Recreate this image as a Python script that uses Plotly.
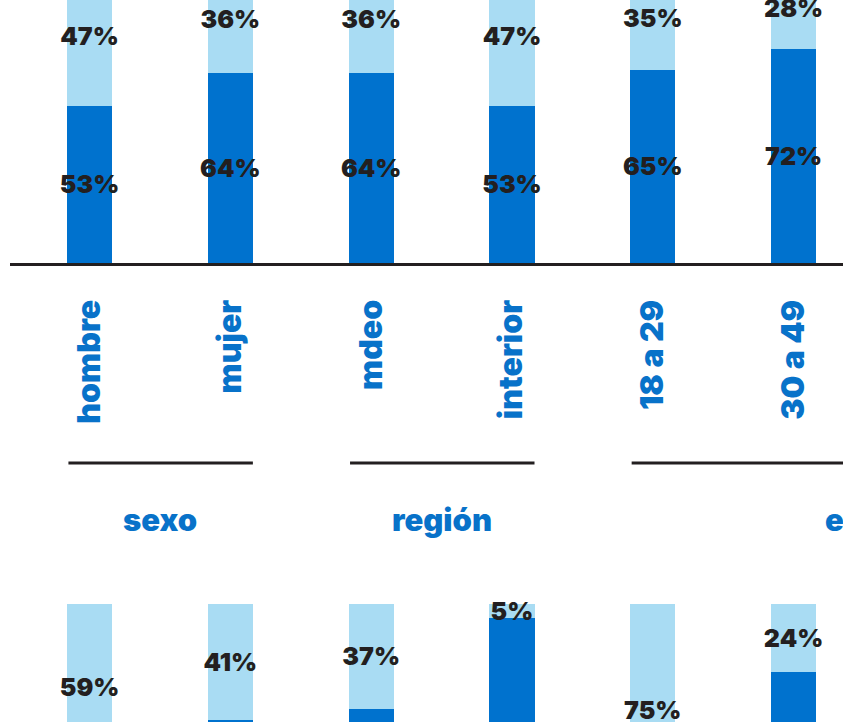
import plotly.graph_objects as go

# ---- data ----
categories = ["hombre", "mujer", "mdeo", "interior", "18 a 29", "30 a 49"]
top_dark = [53, 64, 64, 53, 65, 72]
top_light = [47, 36, 36, 47, 35, 28]
bottom_dark = [41, 59, 63, 95, 25, 76]
bottom_light = [59, 41, 37, 5, 75, 24]
group_names = ["sexo", "región", "edad"]
group_first = [0, 2, 4]
group_last = [1, 3, 7]

# ---- style ----
DARK = "#0072CE"
LIGHT = "#A9DCF3"
TXT = "#231F20"
BLUE_TXT = "#0872C9"
FONT = "Inter"

W, H = 843, 722
x_dom0 = 10 / W
x_range = [-0.565, 5.351]


def cat_to_paper(c):
    return x_dom0 + (c - x_range[0]) / (x_range[1] - x_range[0]) * (1 - x_dom0)


fig = go.Figure()


def add(vals, color, xa, ya):
    fig.add_bar(
        x=categories, y=vals, marker=dict(color=color, line=dict(width=0)),
        text=[f"{v}%" for v in vals], textposition="inside",
        insidetextanchor="middle", textangle=0, constraintext="none",
        textfont=dict(family=FONT, size=25, color=TXT, weight=900),
        xaxis=xa, yaxis=ya, hoverinfo="skip",
    )


add(top_dark, DARK, "x", "y")
add(top_light, LIGHT, "x", "y")
add(bottom_dark, DARK, "x2", "y2")
add(bottom_light, LIGHT, "x2", "y2")

shapes = []
annotations = []
for name, a, b in zip(group_names, group_first, group_last):
    shapes.append(dict(type="line", xref="x", yref="paper", x0=a - 0.15, x1=b + 0.16,
                       y0=1 - 463 / H, y1=1 - 463 / H, line=dict(color=TXT, width=3)))
    annotations.append(dict(text=name, xref="paper", yref="paper", x=cat_to_paper((a + b) / 2),
                            y=1 - 519 / H, xanchor="center", yanchor="middle", showarrow=False,
                            font=dict(family=FONT, size=31, color=BLUE_TXT, weight=900)))

fig.update_layout(
    width=W, height=H, margin=dict(l=0, r=0, t=0, b=0),
    paper_bgcolor="white", plot_bgcolor="white",
    barmode="stack", bargap=0.68, showlegend=False,
    uniformtext=dict(minsize=25, mode="show"),
    shapes=shapes, annotations=annotations,
    xaxis=dict(domain=[x_dom0, 1], range=x_range, type="category", anchor="y",
               showline=True, linecolor=TXT, linewidth=3, showgrid=False, zeroline=False,
               ticks="", tickangle=-90, ticklabelstandoff=21,
               tickfont=dict(family=FONT, size=32, color=BLUE_TXT, weight=900)),
    yaxis=dict(domain=[1 - 263 / H, 1], range=[0, 88.55], visible=False),
    xaxis2=dict(domain=[x_dom0, 1], range=x_range, type="category", anchor="y2",
                showline=False, showgrid=False, zeroline=False, showticklabels=False, ticks=""),
    yaxis2=dict(domain=[0, 0.18], range=[58.3, 104.24], visible=False),
)

fig.write_html("out.html", config={"displayModeBar": False},
               post_script="document.body.style.margin='0';")
